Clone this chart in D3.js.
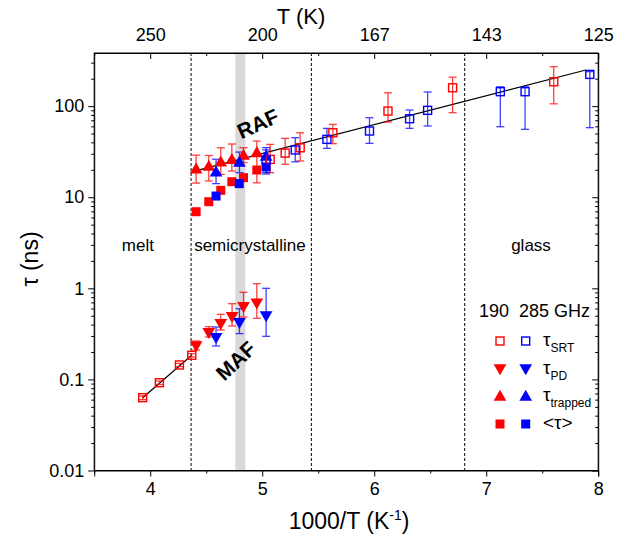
<!DOCTYPE html>
<html><head><meta charset="utf-8">
<script src="https://cdn.jsdelivr.net/npm/d3@7/dist/d3.min.js"></script>
<style>body{margin:0;background:#fff} svg{display:block} text{font-family:"Liberation Sans",Arial,sans-serif;fill:#000}</style>
</head><body><svg id="c" width="621" height="538"></svg>
<script>
// ---------------- data ----------------
// tau_SRT 190 GHz (open red squares)
const srt190X  = [3.933, 4.082, 4.261, 4.371, 5.071, 5.205, 5.339, 5.631, 6.123, 6.70, 7.603];
const srt190Y  = [0.063, 0.092, 0.144, 0.184, 26.0, 30.5, 34.9, 51.0, 88.3, 159, 185];
const srt190Lo = [0.060, 0.088, 0.138, 0.176, 18.6, 23.0, 25.0, 38.7, 66.9, 84.7, 106];
const srt190Hi = [0.066, 0.096, 0.150, 0.192, 38.0, 44.3, 51.0, 63.0, 140, 208, 271];
// tau_SRT 285 GHz (open blue squares)
const srt285X  = [5.035, 5.295, 5.578, 5.958, 6.316, 6.477, 7.126, 7.347, 7.925];
const srt285Y  = [25.5, 33.0, 43.2, 53.3, 72.7, 89.9, 144, 144, 223];
const srt285Lo = [18.0, 24.5, 34.4, 39.0, 57.0, 60.5, 59.4, 55.6, 58.0];
const srt285Hi = [33.0, 45.0, 57.0, 74.6, 90.6, 143, 163, 163, 239];
// tau_PD (down triangles)
const pd190X  = [4.41, 4.523, 4.63, 4.731, 4.833, 4.952];
const pd190Y  = [0.233, 0.326, 0.41, 0.488, 0.628, 0.685];
const pd190Lo = [0.21, 0.292, 0.349, 0.386, 0.484, 0.469];
const pd190Hi = [0.264, 0.379, 0.518, 0.678, 0.904, 1.124];
const pd285X  = [4.588, 4.797, 5.035];
const pd285Y  = [0.287, 0.42, 0.497];
const pd285Lo = [0.233, 0.318, 0.297];
const pd285Hi = [0.376, 0.597, 1.0];
// tau_trapped (up triangles)
const tr190X  = [4.41, 4.523, 4.63, 4.729, 4.833, 4.952];
const tr190Y  = [20.5, 22.0, 24.5, 26.1, 29.0, 31.0];
const tr190Lo = [14.3, 15.1, 17.8, 19.4, 24.0, 14.4];
const tr190Hi = [29.0, 28.7, 34.9, 38.4, 35.0, 41.4];
const tr285X  = [4.588, 4.797, 5.035];
const tr285Y  = [19.05, 24.3, 28.3];
const tr285Lo = [14.1, 18.6, 18.6];
const tr285Hi = [26.1, 31.3, 35.0];
// <tau> (filled squares)
const mean190X = [4.41, 4.523, 4.63, 4.729, 4.833, 4.952];
const mean190Y = [6.93, 8.93, 11.9, 14.8, 16.4, 19.9];
const mean285X = [4.588, 4.795, 5.035];
const mean285Y = [10.3, 14.1, 21.5];
// Arrhenius fit lines
const fitRafX = [4.37, 7.89];
const fitRafY = [19.0, 249];
const fitMafX = [3.933, 4.371];
const fitMafY = [0.063, 0.184];
// phase boundaries and band
const phaseX = [4.365, 5.439, 6.808];
const bandX = [4.76, 4.85];
// axes ticks
const xTicks = [4, 5, 6, 7, 8];
const xMinor = [3.5, 4.5, 5.5, 6.5, 7.5];
const topTickLabels = ["250", "200", "167", "143", "125"];
const yTicks = [0.01, 0.1, 1, 10, 100];
const yTickLabels = ["0.01", "0.1", "1", "10", "100"];
const regionNames = ["melt", "semicrystalline", "glass"];
const regionX = [3.89, 4.89, 7.40];

// ---------------- layout ----------------
const svg = d3.select("#c");
const L = 94.2, R = 598.2, T = 53, B = 470.5;
const x = d3.scaleLinear().domain([3.5, 8]).range([L, R]);
const y = d3.scaleLog().domain([0.01, 383]).range([B, T]);
const RED = "#ff0000", BLUE = "#0000ff";

// band
svg.append("rect").attr("x", x(bandX[0])).attr("y", T)
  .attr("width", x(bandX[1]) - x(bandX[0])).attr("height", B - T).attr("fill", "#d9d9d9");
// phase lines
svg.selectAll(".ph").data(phaseX).enter().append("line")
  .attr("x1", d => x(d)).attr("x2", d => x(d)).attr("y1", T).attr("y2", B)
  .attr("stroke", "#000").attr("stroke-width", 1).attr("stroke-dasharray", "3,2");

// axes
const minorY = [];
for (let e = -2; e <= 2; e++) for (let m = 2; m <= 9; m++) { const v = m * Math.pow(10, e); if (v < 383) minorY.push(v); }

svg.append("g").attr("transform", `translate(0,${B})`)
  .call(d3.axisBottom(x).tickValues(xTicks).tickFormat(d3.format("d")).tickSize(6).tickPadding(6));
svg.append("g").attr("transform", `translate(0,${B})`)
  .call(d3.axisBottom(x).tickValues(xMinor).tickFormat("").tickSize(3)).select(".domain").remove();
svg.append("g").attr("transform", `translate(0,${T})`)
  .call(d3.axisTop(x).tickValues(xTicks).tickFormat((d, i) => topTickLabels[i]).tickSizeInner(-6).tickSizeOuter(0).tickPadding(12));
svg.append("g").attr("transform", `translate(0,${T})`)
  .call(d3.axisTop(x).tickValues(xMinor).tickFormat("").tickSizeInner(-3).tickSizeOuter(0)).select(".domain").remove();
svg.append("g").attr("transform", `translate(${L},0)`)
  .call(d3.axisLeft(y).tickValues(yTicks).tickFormat((d, i) => yTickLabels[i]).tickSize(6).tickSizeOuter(0).tickPadding(4));
svg.append("g").attr("transform", `translate(${L},0)`)
  .call(d3.axisLeft(y).tickValues(minorY).tickFormat("").tickSize(3)).select(".domain").remove();
svg.append("g").attr("transform", `translate(${R},0)`)
  .call(d3.axisRight(y).tickValues(yTicks).tickFormat("").tickSizeInner(-6).tickSizeOuter(0));
svg.append("g").attr("transform", `translate(${R},0)`)
  .call(d3.axisRight(y).tickValues(minorY).tickFormat("").tickSizeInner(-3).tickSizeOuter(0)).select(".domain").remove();
svg.selectAll(".tick text").style("font-size", "18px").style("font-family", '"Liberation Sans",Arial,sans-serif');
svg.selectAll(".domain").attr("stroke", "#000").attr("stroke-width", 1);
// close frame
svg.append("rect").attr("x", L).attr("y", T).attr("width", R - L).attr("height", B - T)
  .attr("fill", "none").attr("stroke", "#000").attr("stroke-width", 1);

// axis titles
svg.append("text").attr("x", 301).attr("y", 24).attr("text-anchor", "middle").style("font-size", "22px").text("T (K)");
const bt = svg.append("text").attr("x", 349).attr("y", 529).attr("text-anchor", "middle").style("font-size", "23px");
bt.append("tspan").text("1000/T (K");
bt.append("tspan").attr("dy", -9).style("font-size", "14px").text("-1");
bt.append("tspan").attr("dy", 9).text(")");
svg.append("text").attr("transform", "translate(38,259) rotate(-90)").attr("text-anchor", "middle").style("font-size", "23px").text("τ (ns)");

// region labels
svg.selectAll(".rg").data(regionNames).enter().append("text")
  .attr("x", (d, i) => x(regionX[i])).attr("y", y(3.0) + 6).attr("text-anchor", "middle")
  .style("font-size", "17px").text(d => d);

// fit lines
const line = d3.line().x(d => x(d[0])).y(d => y(d[1]));
svg.append("path").attr("d", line(d3.zip(fitRafX, fitRafY))).attr("stroke", "#000").attr("stroke-width", 1.2).attr("fill", "none");
svg.append("path").attr("d", line(d3.zip(fitMafX, fitMafY))).attr("stroke", "#000").attr("stroke-width", 1.2).attr("fill", "none");

// error bars
function errbars(xs, lo, hi, col) {
  const g = svg.append("g").attr("stroke", col).attr("stroke-width", 1.3).attr("opacity", 0.75);
  xs.forEach((xv, i) => {
    g.append("line").attr("x1", x(xv)).attr("x2", x(xv)).attr("y1", y(lo[i])).attr("y2", y(hi[i]));
    g.append("line").attr("x1", x(xv) - 4).attr("x2", x(xv) + 4).attr("y1", y(lo[i])).attr("y2", y(lo[i]));
    g.append("line").attr("x1", x(xv) - 4).attr("x2", x(xv) + 4).attr("y1", y(hi[i])).attr("y2", y(hi[i]));
  });
}
const triUp = d3.symbol().type(d3.symbolTriangle).size(70);
function tri(xs, ys, col, down) {
  svg.append("g").selectAll("path").data(d3.zip(xs, ys)).enter().append("path")
    .attr("d", triUp()).attr("fill", col)
    .attr("transform", d => `translate(${x(d[0])},${y(d[1]) + (down ? -1 : 1)})` + (down ? " rotate(180)" : ""));
}
function sqFilled(xs, ys, col) {
  svg.append("g").selectAll("rect").data(d3.zip(xs, ys)).enter().append("rect")
    .attr("x", d => x(d[0]) - 4.5).attr("y", d => y(d[1]) - 4.5).attr("width", 9).attr("height", 9).attr("fill", col);
}
function sqOpen(xs, ys, col) {
  svg.append("g").selectAll("rect").data(d3.zip(xs, ys)).enter().append("rect")
    .attr("x", d => x(d[0]) - 4).attr("y", d => y(d[1]) - 4).attr("width", 8).attr("height", 8)
    .attr("fill", "none").attr("stroke", col).attr("stroke-width", 1.4);
}

errbars(srt190X, srt190Lo, srt190Hi, RED);
errbars(srt285X, srt285Lo, srt285Hi, BLUE);
errbars(pd190X, pd190Lo, pd190Hi, RED);
errbars(pd285X, pd285Lo, pd285Hi, BLUE);
errbars(tr190X, tr190Lo, tr190Hi, RED);
errbars(tr285X, tr285Lo, tr285Hi, BLUE);

sqFilled(mean190X, mean190Y, RED);
sqFilled(mean285X, mean285Y, BLUE);
tri(tr190X, tr190Y, RED, false);
tri(tr285X, tr285Y, BLUE, false);
tri(pd190X, pd190Y, RED, true);
tri(pd285X, pd285Y, BLUE, true);
sqOpen(srt190X, srt190Y, RED);
sqOpen(srt285X, srt285Y, BLUE);

// RAF / MAF labels
svg.append("text").attr("transform", "translate(258,124) rotate(-24)").attr("text-anchor", "middle")
  .attr("dy", 7).style("font-size", "21px").style("font-weight", "bold").text("RAF");
svg.append("text").attr("transform", "translate(236,361) rotate(-43)").attr("text-anchor", "middle")
  .attr("dy", 7).style("font-size", "21px").style("font-weight", "bold").text("MAF");

// legend
svg.append("text").attr("x", 479).attr("y", 317).style("font-size", "18px").text("190");
svg.append("text").attr("x", 519).attr("y", 317).style("font-size", "18px").text("285 GHz");
const legRows = [341, 369, 396, 424];
const legMain = ["τ", "τ", "τ", "<τ>"];
const legSub = ["SRT", "PD", "trapped", ""];
const lx1 = 500, lx2 = 525.7;
[[lx1, RED], [lx2, BLUE]].forEach(([lx, col]) => {
  svg.append("rect").attr("x", lx - 4).attr("y", legRows[0] - 4).attr("width", 8).attr("height", 8)
    .attr("fill", "none").attr("stroke", col).attr("stroke-width", 1.4);
  svg.append("path").attr("d", triUp()).attr("fill", col).attr("transform", `translate(${lx},${legRows[1] - 1}) rotate(180)`);
  svg.append("path").attr("d", triUp()).attr("fill", col).attr("transform", `translate(${lx},${legRows[2] + 1})`);
  svg.append("rect").attr("x", lx - 4.5).attr("y", legRows[3] - 4.5).attr("width", 9).attr("height", 9).attr("fill", col);
});
legRows.forEach((ry, i) => {
  const t = svg.append("text").attr("x", 543).attr("y", ry + 5).style("font-size", "19px");
  t.append("tspan").text(legMain[i]);
  if (legSub[i]) t.append("tspan").attr("dy", 6).style("font-size", "12px").text(legSub[i]);
});
</script>
</body></html>
